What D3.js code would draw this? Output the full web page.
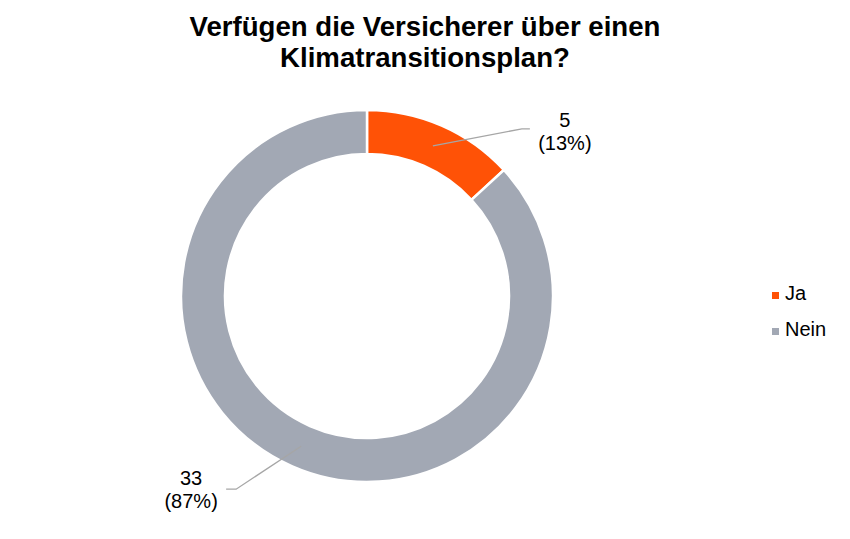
<!DOCTYPE html>
<html>
<head>
<meta charset="utf-8">
<script src="https://cdn.jsdelivr.net/npm/d3@7"></script>
<style>
  body { margin: 0; background: #fff; }
  svg { font-family: "Liberation Sans", Arial, sans-serif; }
</style>
</head>
<body>
<div id="chart"></div>
<script>
// chart data
const categories = ["Ja", "Nein"]
const counts = [5, 33]
const colors = ["#FF5206", "#A2A8B4"]
const titleLines = ["Verfügen die Versicherer über einen", "Klimatransitionsplan?"]

const width = 850
const height = 539
const cx = 367
const cy = 296
const outerR = 186
const innerR = 142

const svg = d3.select("#chart").append("svg")
    .attr("width", width)
    .attr("height", height)

// title
svg.append("g").selectAll("text")
    .data(titleLines)
    .join("text")
    .attr("x", 425)
    .attr("y", (d, i) => 36 + i * 31)
    .attr("text-anchor", "middle")
    .attr("font-size", 27.6)
    .attr("font-weight", "bold")
    .attr("fill", "#000")
    .text(d => d)

const total = d3.sum(counts)
const rows = categories.map((c, i) => ({ name: c, value: counts[i], color: colors[i] }))

const pie = d3.pie().sort(null).value(d => d.value)
const arc = d3.arc().innerRadius(innerR).outerRadius(outerR)
const midArc = d3.arc().innerRadius((innerR + outerR) / 2).outerRadius((innerR + outerR) / 2)

const arcs = pie(rows)

const donut = svg.append("g").attr("transform", `translate(${cx},${cy})`)

donut.selectAll("path")
    .data(arcs)
    .join("path")
    .attr("d", arc)
    .attr("fill", d => d.data.color)
    .attr("stroke", "#fff")
    .attr("stroke-width", 2.5)

// label offsets from centroid
const labelPos = [
    { elbow: [89, -17], end: [97, -17], text: [132, -19] },
    { elbow: [-65, 43], end: [-75, 43], text: [-110, 39] }
]

const labels = donut.append("g")
arcs.forEach((d, i) => {
    const [x0, y0] = midArc.centroid(d)
    const p = labelPos[i]
    labels.append("polyline")
        .attr("points", [[x0, y0], [x0 + p.elbow[0], y0 + p.elbow[1]], [x0 + p.end[0], y0 + p.end[1]]].join(" "))
        .attr("fill", "none")
        .attr("stroke", "#A6A6A6")
        .attr("stroke-width", 1.3)
    const t = labels.append("text")
        .attr("text-anchor", "middle")
        .attr("font-size", 20)
        .attr("fill", "#000")
    t.append("tspan")
        .attr("x", x0 + p.text[0])
        .attr("y", y0 + p.text[1])
        .text(d.data.value)
    t.append("tspan")
        .attr("x", x0 + p.text[0])
        .attr("y", y0 + p.text[1] + 23)
        .text("(" + d3.format(".0%")(d.data.value / total) + ")")
})

// legend
const legend = svg.append("g").attr("transform", "translate(772,292)")
const items = legend.selectAll("g")
    .data(rows)
    .join("g")
    .attr("transform", (d, i) => `translate(0,${i * 36})`)
items.append("rect")
    .attr("width", 7)
    .attr("height", 7)
    .attr("fill", d => d.color)
items.append("text")
    .attr("x", 13)
    .attr("y", 7.5)
    .attr("font-size", 20)
    .attr("fill", "#000")
    .text(d => d.name)
</script>
</body>
</html>
